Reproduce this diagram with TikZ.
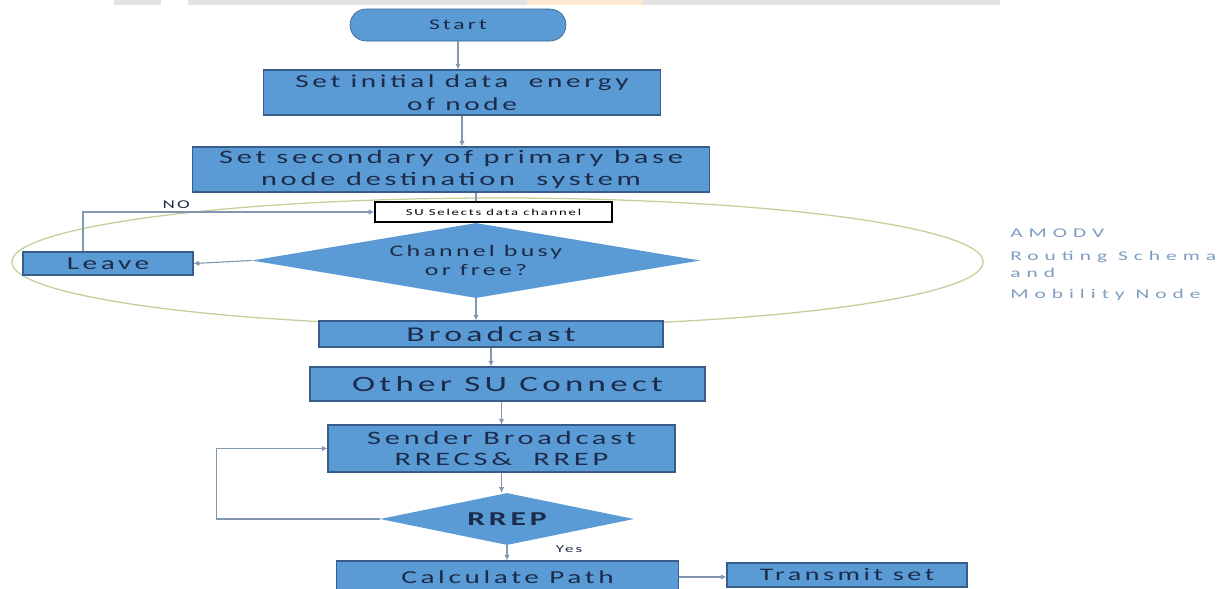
\documentclass[tikz,border=0pt]{standalone}
\usepackage{fontspec}
\setmainfont{Carlito}[FakeStretch=1.6, LetterSpace=20]
\usetikzlibrary{shapes.geometric,arrows.meta}
\definecolor{boxfill}{HTML}{5B9BD5}
\definecolor{boxline}{HTML}{385D8A}
\definecolor{boxtext}{HTML}{1C2B4A}
\definecolor{linkc}{HTML}{8497B0}
\definecolor{zonec}{HTML}{C3CF9B}
\definecolor{sidec}{HTML}{7F9CC0}
\begin{document}
\begin{tikzpicture}[x=0.025cm, y=-0.025cm] % 1 unit = 1 px
\tikzstyle{myterm} = [draw=boxline, fill=boxfill, text=boxtext, rounded corners=0.4cm, minimum width=5.4cm, minimum height=0.8cm, inner sep=0pt] % start
\tikzstyle{mybox} = [draw=boxline, line width=0.8pt, fill=boxfill, text=boxtext, align=center, inner sep=0pt] % process box
\tikzstyle{mydec} = [diamond, fill=boxfill, text=boxtext, align=center, inner sep=0pt] % decision
\tikzstyle{myarrow} = [draw=linkc, line width=0.8pt, -{Latex[length=4pt,width=4pt]}] % connector
\tikzstyle{myline} = [draw=linkc, line width=0.8pt] % connector without tip
\tikzstyle{myside} = [text=sidec, anchor=west, inner sep=0pt, font=\fontsize{9.5}{11}\selectfont\addfontfeature{LetterSpace=45}] % right labels
\useasboundingbox (0,0) rectangle (1231,588);
% header strip
\fill[gray!22] (114,0) rectangle (161,5);
\fill[gray!22] (188,0) rectangle (1000,5);
\fill[orange!18] (527,0) rectangle (643,5);
% AMODV zone
\node[ellipse, draw=zonec, line width=0.9pt, minimum width=24.275cm, minimum height=3.2cm] (region) at (497.5,262) {};
\node[myterm, font=\fontsize{10.5}{12}\selectfont] (start) at (458,25) {Start};
\node[mybox, minimum width=9.925cm, minimum height=1.125cm, font=\fontsize{13}{16}\selectfont] (init) at (462,92.5) {Set initial data\ \ energy\\of node};
\node[mybox, minimum width=12.9cm, minimum height=1.125cm, font=\fontsize{13.5}{16}\selectfont] (base) at (451,169.5) {Set secondary of primary base\\node destination\ \ system};
\node[draw=black, line width=1pt, fill=white, minimum width=5.925cm, minimum height=0.5cm, inner sep=0pt, font=\fontsize{6.5}{8}\selectfont] (select) at (493.5,212) {SU Selects data channel};
\node[mydec, aspect=6, minimum width=11.2cm, minimum height=1.875cm, font=\fontsize{11.5}{14}\selectfont] (chan) at (476,260.5) {Channel busy\\or free?};
\node[mybox, minimum width=4.25cm, minimum height=0.575cm, font=\fontsize{13}{15}\selectfont] (leave) at (108,263.5) {Leave};
\node[mybox, minimum width=8.6cm, minimum height=0.65cm, font=\fontsize{15}{17}\selectfont] (bcast) at (491,334) {Broadcast};
\node[mybox, minimum width=9.875cm, minimum height=0.85cm, font=\fontsize{15.5}{18}\selectfont] (other) at (507.5,384) {Other SU Connect};
\node[mybox, minimum width=8.675cm, minimum height=1.175cm, font=\fontsize{13.5}{15}\selectfont] (sender) at (501.5,448.5) {Sender Broadcast\\RRECS\&\ \ RREP};
\node[mydec, aspect=4.9, minimum width=6.35cm, minimum height=1.3cm, font=\bfseries\fontsize{14}{16}\selectfont] (rrep) at (507,519) {RREP};
\node[mybox, minimum width=8.55cm, minimum height=0.8cm, font=\fontsize{13}{15}\selectfont] (calc) at (507.5,577) {Calculate Path};
\node[mybox, minimum width=6cm, minimum height=0.6cm, font=\fontsize{12.5}{14}\selectfont] (transmit) at (847,575) {Transmit set};
\node[text=boxtext, font=\fontsize{7.5}{9}\selectfont] (yes) at (569,549) {Yes};
% right labels
\node[myside] (side1) at (1010,233) {AMODV};
\node[myside] (side2) at (1010,257) {Routing Schema};
\node[myside] (side3) at (1010,273) {and};
\node[myside] (side4) at (1010,295) {Mobility Node};
% connectors
\draw[myarrow] (start) -- (start |- init.north);
\draw[myarrow] (init) -- (init |- base.north);
\draw[myline] (base.south -| chan) -- (select.north -| chan);
\draw[myarrow] (chan.west) -- (leave.east);
\draw[myarrow] ([xshift=-0.625cm]leave.north) |- (select.west) node[pos=0.66, above=-1pt, text=boxtext, font=\fontsize{8.5}{10}\selectfont] (no) {NO};
\draw[myarrow] (chan.south) -- (chan.south |- bcast.north);
\draw[myarrow] (bcast) -- (bcast |- other.north);
\draw[myarrow] (sender |- other.south) -- (sender.north);
\draw[myarrow] (sender) -- (sender |- rrep.north);
\draw[myarrow] (rrep.west) -- ++(-163,0) |- (sender.west);
\draw[myarrow] (rrep.south) -- (rrep.south |- calc.north);
\draw[myarrow] (calc.east) -- (calc.east -| transmit.west);
\end{tikzpicture}
\end{document}
